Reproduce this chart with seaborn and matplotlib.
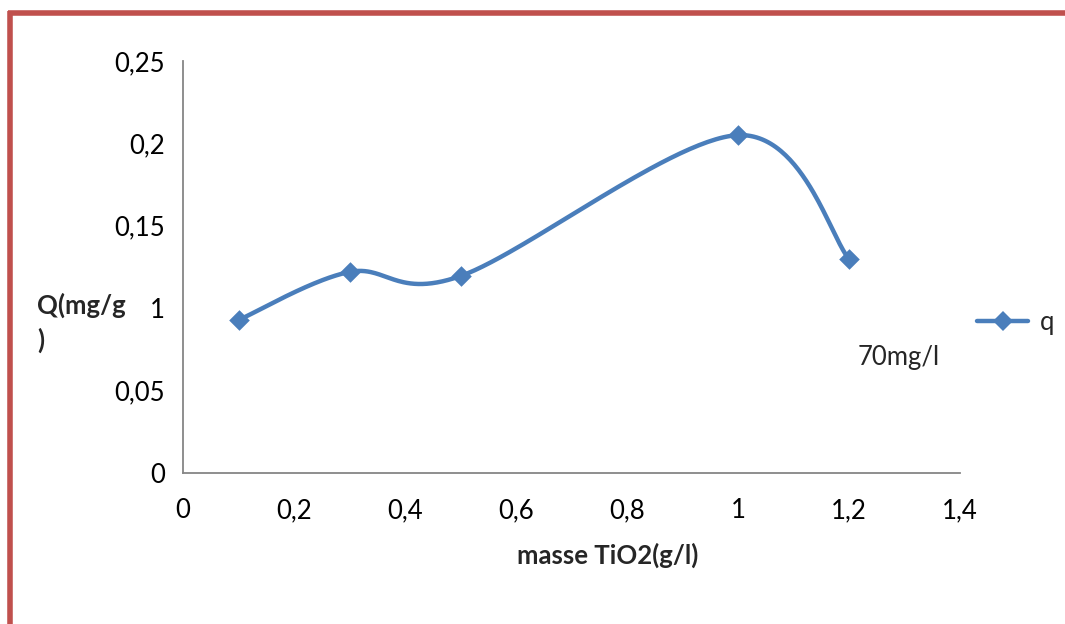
import numpy as np
import pandas as pd
import matplotlib
matplotlib.use("Agg")
import matplotlib.pyplot as plt
from matplotlib.lines import Line2D
import seaborn as sns

# Adsorbed quantity versus TiO2 dose
masse_tio2 = [0.1, 0.3, 0.5, 1.0, 1.2]
q_values = [0.0928, 0.1220, 0.1195, 0.2050, 0.1300]
x_ticks = [0, 0.2, 0.4, 0.6, 0.8, 1.0, 1.2, 1.4]
x_tick_labels = ["0", "0,2", "0,4", "0,6", "0,8", "1", "1,2", "1,4"]
y_ticks = [0, 0.05, 0.10, 0.15, 0.20, 0.25]
y_tick_labels = ["0", "0,05", "1", "0,15", "0,2", "0,25"]

BLUE = "#4A7EBB"
GREY = "#868686"
FRAME = "#C0504D"
FS = 18.5


def smooth_curve(xs, ys, n=60):
    """Bezier smoothing through every point (spreadsheet-style smoothed line)."""
    xs = np.asarray(xs, float)
    ys = np.asarray(ys, float)
    px = np.concatenate([[xs[0]], xs, [xs[-1]]])
    py = np.concatenate([[ys[0]], ys, [ys[-1]]])
    out_x, out_y = [], []
    t = np.linspace(0, 1, n)
    for i in range(1, len(px) - 2):
        p0 = np.array([px[i], py[i]])
        p3 = np.array([px[i + 1], py[i + 1]])
        c1 = p0 + (np.array([px[i + 1], py[i + 1]]) - np.array([px[i - 1], py[i - 1]])) / 6
        c2 = p3 - (np.array([px[i + 2], py[i + 2]]) - np.array([px[i], py[i]])) / 6
        b = (((1 - t) ** 3)[:, None] * p0 + (3 * (1 - t) ** 2 * t)[:, None] * c1
             + (3 * (1 - t) * t ** 2)[:, None] * c2 + (t ** 3)[:, None] * p3)
        out_x.extend(b[:, 0])
        out_y.extend(b[:, 1])
    return np.array(out_x), np.array(out_y)


sns.set_theme(style="white")
plt.rcParams["font.family"] = ["Lato", "DejaVu Sans"]

fig = plt.figure(figsize=(10.65, 6.24), dpi=100)
ax = fig.add_axes([183 / 1065, 1 - 473 / 624, (960 - 183) / 1065, (473 - 61) / 624])

sx, sy = smooth_curve(masse_tio2, q_values)
curve = pd.DataFrame({"x": sx, "y": sy})
points = pd.DataFrame({"x": masse_tio2, "y": q_values})

sns.lineplot(data=curve, x="x", y="y", ax=ax, color=BLUE, linewidth=3.2,
             sort=False, estimator=None)
sns.scatterplot(data=points, x="x", y="y", ax=ax, color=BLUE, marker="D",
                s=110, edgecolor=BLUE, linewidth=0, zorder=5)

ax.set_xlim(0, 1.4)
ax.set_ylim(0, 0.25)
ax.set_xticks(x_ticks)
ax.set_xticklabels(x_tick_labels)
ax.set_yticks(y_ticks)
ax.set_yticklabels(y_tick_labels)
ax.tick_params(axis="both", labelsize=FS, colors="black", length=6, width=1.3,
               direction="out", color=GREY, pad=12)
ax.tick_params(axis="y", pad=7)
for side in ("top", "right"):
    ax.spines[side].set_visible(False)
for side in ("left", "bottom"):
    ax.spines[side].set_color(GREY)
    ax.spines[side].set_linewidth(1.3)

ax.set_xlabel("")
ax.set_ylabel("")
fig.text(608 / 1065, 1 - 555 / 624, "masse TiO2(g/l)", ha="center", va="center",
         fontsize=FS, fontweight="bold")
fig.text(37 / 1065, 1 - 305 / 624, "Q(mg/g", ha="left", va="center",
         fontsize=FS, fontweight="bold")
fig.text(37 / 1065, 1 - 340 / 624, ")", ha="left", va="center",
         fontsize=FS, fontweight="bold")
fig.text(858 / 1065, 1 - 358 / 624, "70mg/l", ha="left", va="center", fontsize=FS)

handle = Line2D([], [], color=BLUE, linewidth=3.2, marker="D", markersize=10,
                markeredgewidth=0)
fig.legend([handle], ["q"], loc="center left",
           bbox_to_anchor=(977 / 1065, 1 - 322 / 624), frameon=False,
           fontsize=FS, handlelength=2.0, handletextpad=0.45, borderaxespad=0,
           borderpad=0)

# Red frame along the top and left edges
fig.add_artist(Line2D([8 / 1065, 1], [1 - 13 / 624, 1 - 13 / 624],
                      transform=fig.transFigure, color=FRAME, linewidth=4,
                      solid_capstyle="butt"))
fig.add_artist(Line2D([10 / 1065, 10 / 1065], [1 - 11 / 624, 0],
                      transform=fig.transFigure, color=FRAME, linewidth=4,
                      solid_capstyle="butt"))

fig.savefig("out.png", dpi=100, facecolor="white")
